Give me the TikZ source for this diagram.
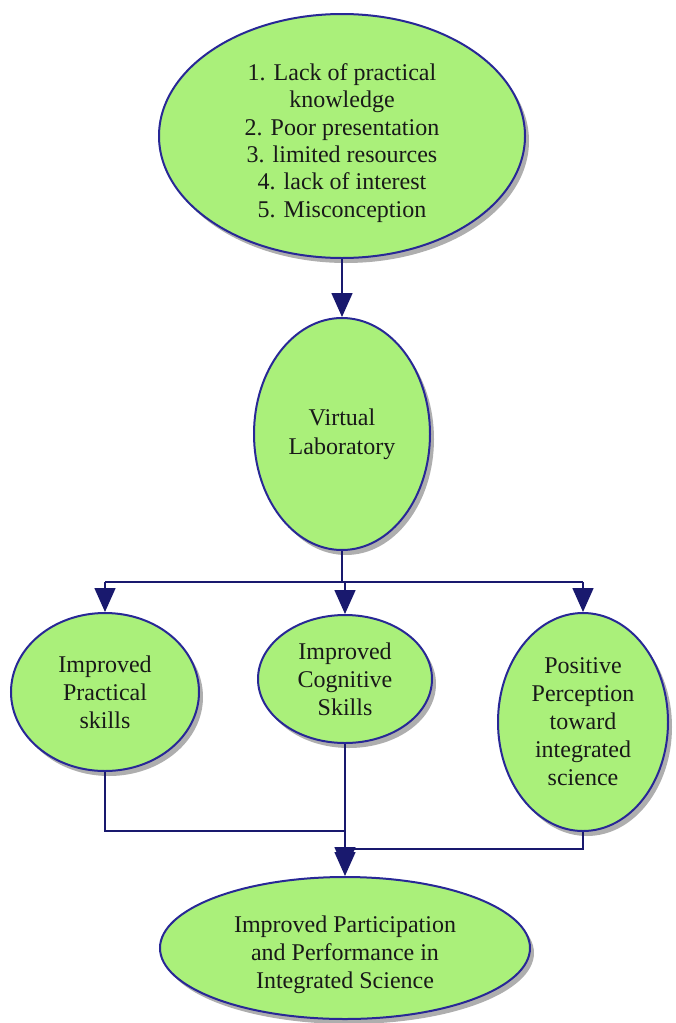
\documentclass[tikz,border=0pt]{standalone}
\usepackage{fontspec}
\setmainfont{Liberation Serif}
\usetikzlibrary{shapes.geometric,arrows.meta,shadows}
\definecolor{bubble}{RGB}{170,240,122}
\definecolor{rim}{RGB}{40,40,150}
\definecolor{wire}{RGB}{25,25,110}
\begin{document}
\begin{tikzpicture}[x=1pt,y=-1pt,
  bub/.style={ellipse,draw=rim,line width=2pt,fill=bubble,inner sep=0pt,align=center,
    font=\fontsize{24}{28}\selectfont,text=black!90,
    drop shadow={shadow xshift=4pt,shadow yshift=-5pt,fill=black!45,opacity=0.7}},
  txt/.style={align=center,inner sep=0pt,text=black!90},
  wireline/.style={draw=wire,line width=1.6pt},
  arr/.style={wireline,-{Triangle[length=24pt,width=21pt]}}]
\useasboundingbox (0,0) rectangle (675,1023);
\node[bub,minimum width=366pt,minimum height=244pt] (top) at (342,136) {};
\node[txt,font=\fontsize{24}{27.4}\selectfont] (toptext) at (342,143)
  {1. Lack of practical\\knowledge\\2. Poor presentation\\3. limited resources\\4. lack of interest\\5. Misconception};
\node[bub,minimum width=176pt,minimum height=232pt,font=\fontsize{24}{32}\selectfont] (vl) at (342,434) {Virtual\\[-3pt]Laboratory};
\node[bub,minimum width=188pt,minimum height=158pt] (ps) at (105,692) {Improved\\Practical\\skills};
\node[bub,minimum width=174pt,minimum height=128pt] (cs) at (345,679) {Improved\\Cognitive\\Skills};
\node[bub,minimum width=170pt,minimum height=218pt] (pp) at (583,722) {Positive\\Perception\\toward\\integrated\\science};
\node[bub,minimum width=370pt,minimum height=142pt] (out) at (345,948) {};
\node[txt,font=\fontsize{24}{28}\selectfont] (outtext) at (345,955)
  {Improved Participation\\and Performance in\\Integrated Science};
\coordinate (bus) at (342,582);
\coordinate (jl) at (345,831);
\coordinate (jr) at (345,849);
\coordinate (tip) at (345,871);
\draw[arr] (top.south -| vl.north) -- (vl.north);
\draw[wireline] (vl.south) -- (bus);
\draw[wireline] (ps.north |- bus) -- (pp.north |- bus);
\draw[arr] (ps.north |- bus) -- (ps.north);
\draw[arr] (cs.north |- bus) -- (cs.north);
\draw[arr] (pp.north |- bus) -- (pp.north);
\draw[arr] (ps.south) |- (jl) -- (tip);
\draw[arr] (cs.south) -- (out.north);
\draw[wireline] (pp.south) |- (jr);
\end{tikzpicture}
\end{document}
